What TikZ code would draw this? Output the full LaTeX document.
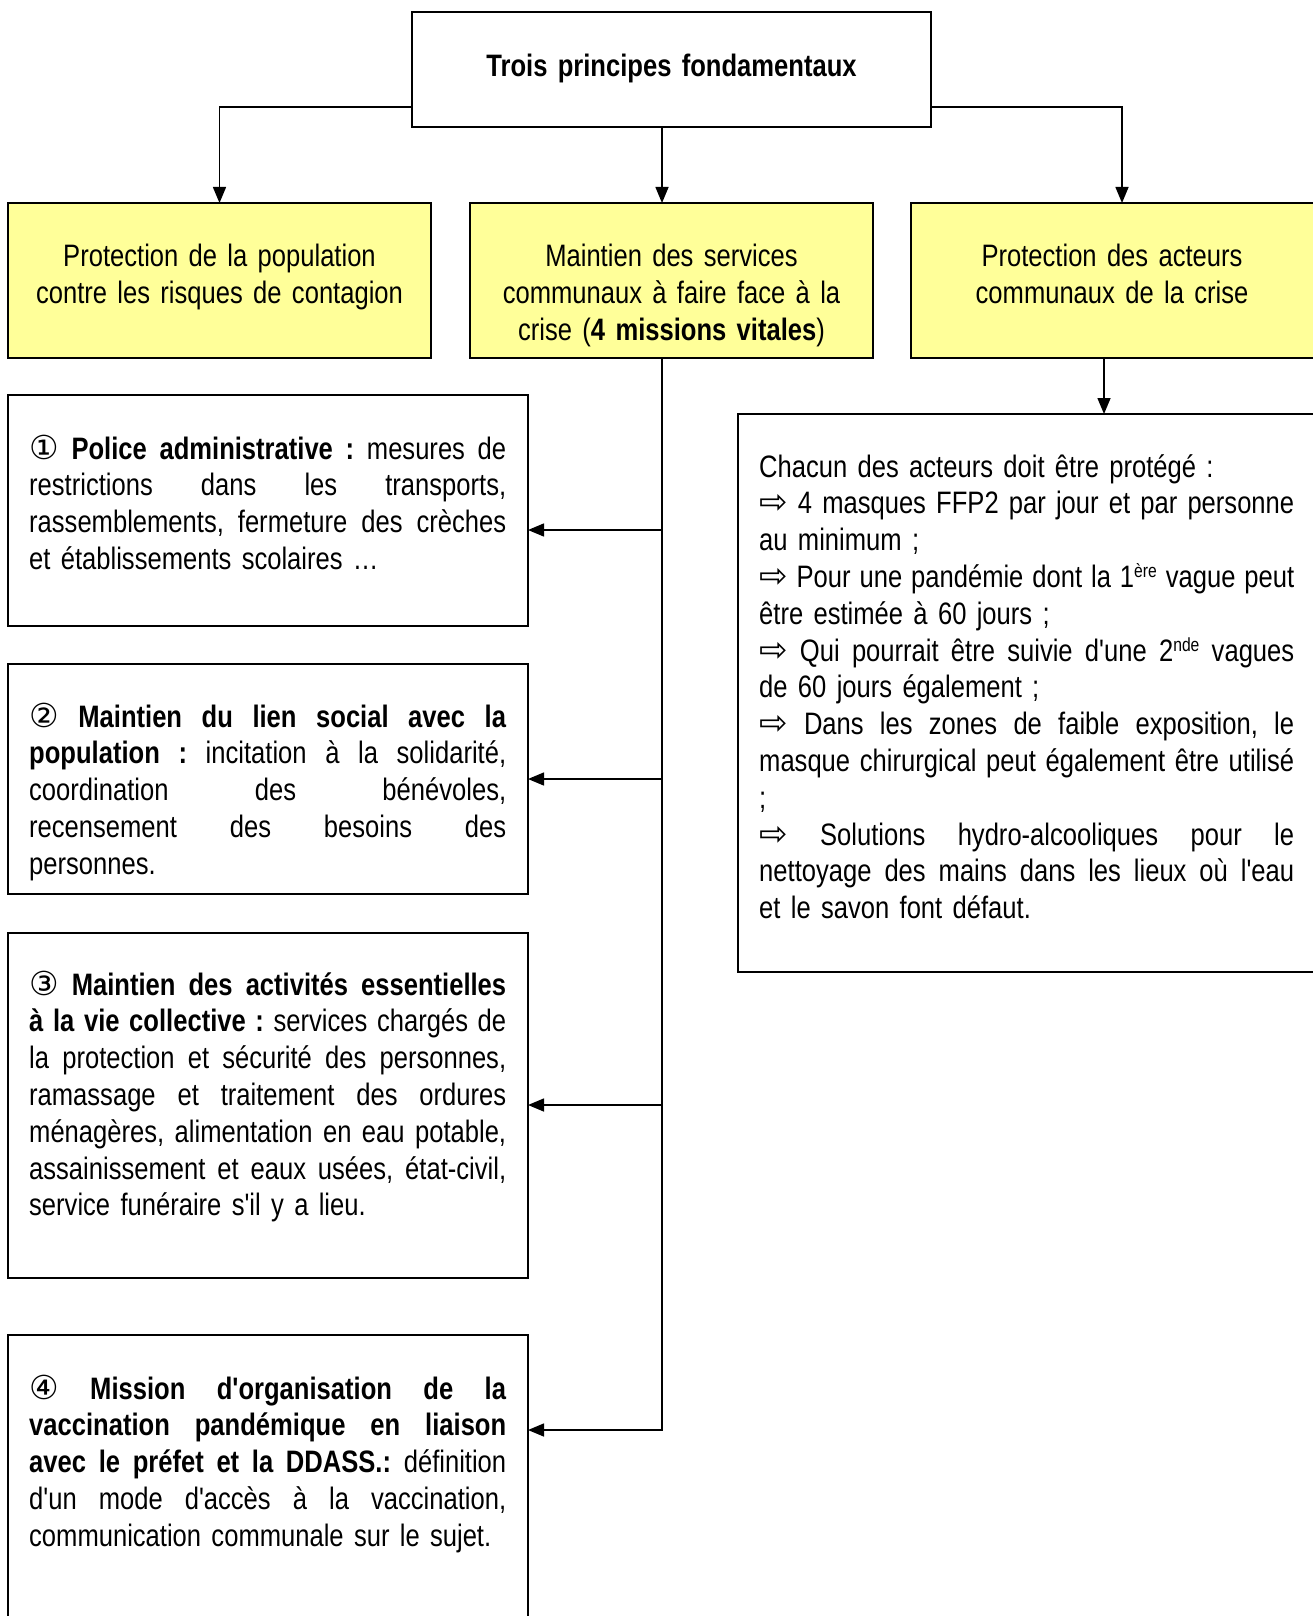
\documentclass[tikz,border=0pt]{standalone}
\usepackage{fontspec}
\setmainfont{Liberation Sans}[FakeStretch=0.825,Ligatures=TeXOff]
\newfontfamily\symb{DejaVu Sans}
\usepackage{tikz}
\usetikzlibrary{arrows.meta}
\definecolor{box_yell}{RGB}{255,255,153}
\newcommand\jline[1]{\leavevmode{\spaceskip=6pt plus 1fil\relax\hbox to\hsize{#1}}}
\newcommand\circnum[1]{{\symb\fontsize{33}{33}\selectfont #1}}
\newcommand\fleche{{\symb\fontsize{34}{34}\selectfont ⇨}}
\newcommand\exps[1]{\raisebox{10pt}{\fontsize{19}{19}\selectfont #1}}
\newcommand\boxfont{\fontsize{31}{36.8}\selectfont\frenchspacing\spaceskip=6pt plus 2pt minus 1pt\relax}

\begin{document}
\begin{tikzpicture}[x=1pt,y=-1pt,>={Triangle[length=16pt,width=13pt]}]
    \tikzstyle{principe}=[draw, line width=2pt, fill=white, inner sep=0pt, outer sep=0pt]
    \tikzstyle{axe}=[principe, fill=box_yell, minimum height=155pt]
    \tikzstyle{mission}=[principe, minimum width=520pt]
    \tikzstyle{txt}=[inner sep=0pt, text=black, font=\boxfont]
    \tikzstyle{ctxt}=[txt, align=center, anchor=base]
    \tikzstyle{jtxt}=[txt, align=left, anchor=base west]
    \tikzstyle{lien}=[line width=1.5pt, ->]

    \clip (0,0) rectangle (1313,1616);
    \fill[white] (0,0) rectangle (1313,1616);

    % boxes
    \node[principe, minimum width=519pt, minimum height=115pt] (trois) at (671.5,69.5) {};
    \node[axe, minimum width=423pt] (pop)     at (219.5,280.5) {};
    \node[axe, minimum width=403pt] (serv)    at (671.5,280.5) {};
    \node[axe, minimum width=405pt] (acteurs) at (1113.5,280.5) {};
    \node[mission, minimum height=231pt] (police) at (268,510.5) {};
    \node[mission, minimum height=230pt] (lien)   at (268,779) {};
    \node[mission, minimum height=345pt] (activ)  at (268,1105.5) {};
    \node[mission, minimum height=295pt] (vacc)   at (268,1482.5) {};
    \node[principe, minimum width=582pt, minimum height=558pt] (protege) at (1029,693) {};

    % texts
    \node[ctxt, text width=500pt] (troist) at (671.5,77) {\textbf{Trois principes fondamentaux}};
    \node[ctxt, text width=400pt] (popt) at (219.5,266.5)
      {Protection de la population\\contre les risques de contagion};
    \node[ctxt, text width=400pt] (servt) at (671.5,266.5)
      {Maintien des services\\communaux à faire face à la\\crise (\textbf{4 missions vitales})};
    \node[ctxt, text width=400pt] (acteurst) at (1112,266.5)
      {Protection des acteurs\\communaux de la crise};

    \node[jtxt, text width=477pt] (policet) at (29,459) {%
      \jline{\circnum{①} \textbf{Police administrative :} mesures de}\\
      \jline{restrictions dans les transports,}\\
      \jline{rassemblements, fermeture des crèches}\\
      et établissements scolaires …};
    \node[jtxt, text width=477pt] (lient) at (29,727) {%
      \jline{\circnum{②} \textbf{Maintien du lien social avec la}}\\
      \jline{\textbf{population :} incitation à la solidarité,}\\
      \jline{coordination des bénévoles,}\\
      \jline{recensement des besoins des}\\
      personnes.};
    \node[jtxt, text width=477pt] (activt) at (29,995) {%
      \jline{\circnum{③} \textbf{Maintien des activités essentielles}}\\
      \jline{\textbf{à la vie collective :} services chargés de}\\
      \jline{la protection et sécurité des personnes,}\\
      \jline{ramassage et traitement des ordures}\\
      \jline{ménagères, alimentation en eau potable,}\\
      \jline{assainissement et eaux usées, état-civil,}\\
      service funéraire s'il y a lieu.};
    \node[jtxt, text width=477pt] (vacct) at (29,1399) {%
      \jline{\circnum{④} \textbf{Mission d'organisation de la}}\\
      \jline{\textbf{vaccination pandémique en liaison}}\\
      \jline{\textbf{avec le préfet et la DDASS.:} définition}\\
      \jline{d'un mode d'accès à la vaccination,}\\
      communication communale sur le sujet.};
    \node[jtxt, text width=535pt] (proteget) at (759,477) {%
      Chacun des acteurs doit être protégé :\\
      \jline{\fleche{} 4 masques FFP2 par jour et par personne}\\
      au minimum ;\\
      \jline{\fleche{} Pour une pandémie dont la 1\exps{ère} vague peut}\\
      être estimée à 60 jours ;\\
      \jline{\fleche{} Qui pourrait être suivie d'une 2\exps{nde} vagues}\\
      de 60 jours également ;\\
      \jline{\fleche{} Dans les zones de faible exposition, le}\\
      \jline{masque chirurgical peut également être utilisé}\\
      ;\\
      \jline{\fleche{} Solutions hydro-alcooliques pour le}\\
      \jline{nettoyage des mains dans les lieux où l'eau}\\
      et le savon font défaut.};

    % connectors
    \coordinate (b1) at (662,530);
    \coordinate (b2) at (662,779);
    \coordinate (b3) at (662,1105);
    \coordinate (b4) at (662,1430);

    \draw[lien] ([yshift=20pt]trois.south west) -| (pop.north);
    \draw[lien] ([yshift=20pt]trois.south east) -| ([xshift=8.5pt]acteurs.north);
    \draw[lien] ([xshift=-9.5pt]trois.south) -- ([xshift=-9.5pt]serv.north);
    \draw[lien] ([xshift=-9.5pt]serv.south) -- (b4) -- (b4 -| vacc.east);
    \draw[lien] (b1) -- (b1 -| police.east);
    \draw[lien] (b2) -- (b2 -| lien.east);
    \draw[lien] (b3) -- (b3 -| activ.east);
    \draw[lien] ([xshift=-9.5pt]acteurs.south) -- ([xshift=-9.5pt]acteurs.south |- protege.north);
\end{tikzpicture}
\end{document}
